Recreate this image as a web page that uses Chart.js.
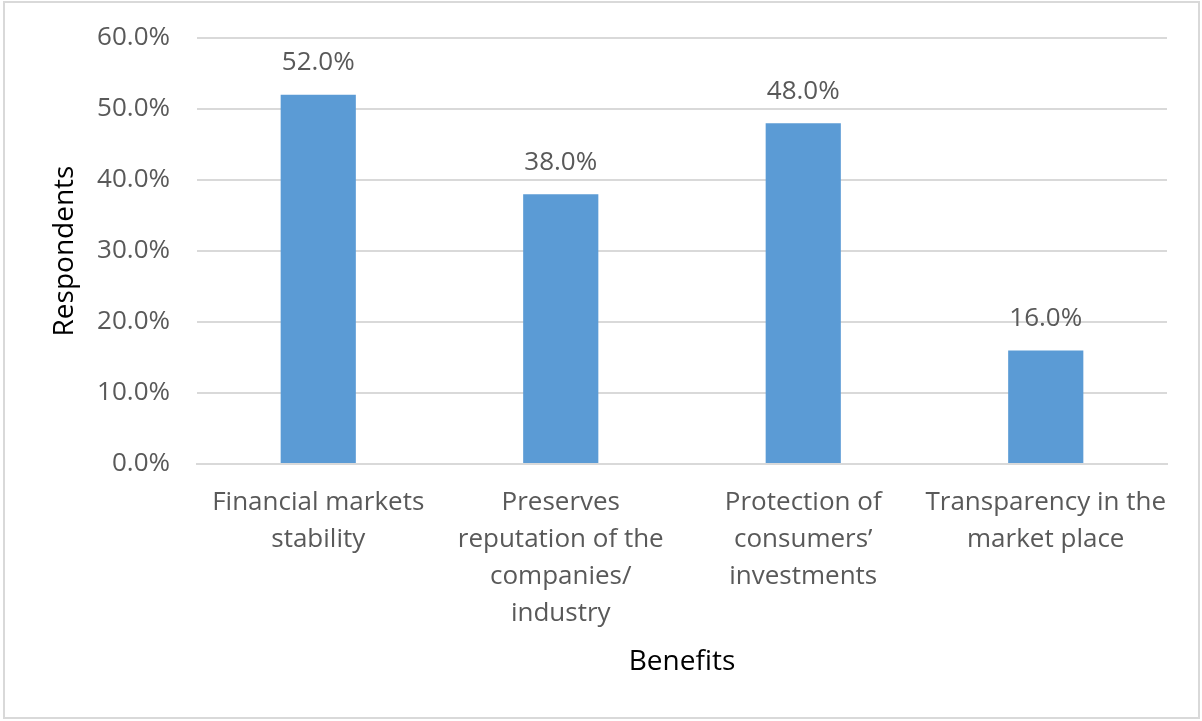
<!DOCTYPE html>
<html>
<head>
<meta charset="utf-8">
<script src="https://cdn.jsdelivr.net/npm/chart.js@4.4.1/dist/chart.umd.min.js"></script>
<style>
  html, body { margin:0; padding:0; background:#fff; }
  #wrap { position:relative; width:1202px; height:721px; }
  #frame { position:absolute; left:3px; top:1px; width:1193px; height:714px; border:2px solid #d9d9d9; pointer-events:none; }
  canvas { position:absolute; left:0; top:0; }
</style>
</head>
<body>
<div id="wrap">
  <canvas id="chart" width="1202" height="721"></canvas>
  <div id="frame"></div>
</div>
<script>
// Survey answers: perceived benefits
const benefitLabels = [
  ['Financial markets', 'stability'],
  ['Preserves', 'reputation of the', 'companies/', 'industry'],
  ['Protection of', 'consumers\u2019', 'investments'],
  ['Transparency in the', 'market place']
];
const respondentShare = [52.0, 38.0, 48.0, 16.0];
const yTicks = [0, 10, 20, 30, 40, 50, 60];

const FONT = '"Open Sans", Lato, sans-serif';
const fmtPct = v => Number(v).toFixed(1) + '%';

// value labels above each bar
const barValues = {
  id: 'barValues',
  afterDatasetsDraw(chart) {
    const ctx = chart.ctx;
    const meta = chart.getDatasetMeta(0);
    ctx.save();
    ctx.font = '26px ' + FONT;
    ctx.fillStyle = '#595959';
    ctx.textAlign = 'center';
    ctx.textBaseline = 'middle';
    meta.data.forEach((bar, i) => {
      ctx.fillText(fmtPct(respondentShare[i]), bar.x, bar.y - 32);
    });
    ctx.restore();
  }
};

new Chart(document.getElementById('chart'), {
  type: 'bar',
  data: {
    labels: benefitLabels,
    datasets: [{
      data: respondentShare,
      backgroundColor: '#5b9bd5',
      borderWidth: 0,
      categoryPercentage: 1,
      barPercentage: 0.31
    }]
  },
  options: {
    responsive: false,
    animation: false,
    layout: { padding: { left: 44, right: 35, top: 38, bottom: 38 } },
    plugins: { legend: { display:false }, tooltip: { enabled:false } },
    scales: {
      x: {
        grid: { display:false },
        border: { color:'#d9d9d9', width:2 },
        ticks: {
          color:'#595959', font:{ family:FONT, size:26, lineHeight:1.42 },
          padding: 12, maxRotation:0, autoSkip:false
        },
        title: { display:true, text:'Benefits', color:'#000', font:{ family:FONT, size:28 }, padding:{ top:4, bottom:4 } },
        afterFit(scale) { scale.height = 219; }
      },
      y: {
        min: 0, max: 60,
        afterBuildTicks(scale) { scale.ticks = yTicks.map(v => ({ value:v })); },
        grid: { color:'#d9d9d9', lineWidth:2, drawTicks:false },
        border: { display:false },
        ticks: {
          color:'#595959', font:{ family:FONT, size:26 }, padding: 27,
          callback: v => fmtPct(v)
        },
        title: { display:true, text:'Respondents', color:'#000', font:{ family:FONT, size:28 }, padding:{ top:4, bottom:4 } },
        afterFit(scale) {
          scale.width = 153;
          scale.paddingTop = 0;
          scale.paddingBottom = 0;
        }
      }
    }
  },
  plugins: [barValues]
});
</script>
</body>
</html>
